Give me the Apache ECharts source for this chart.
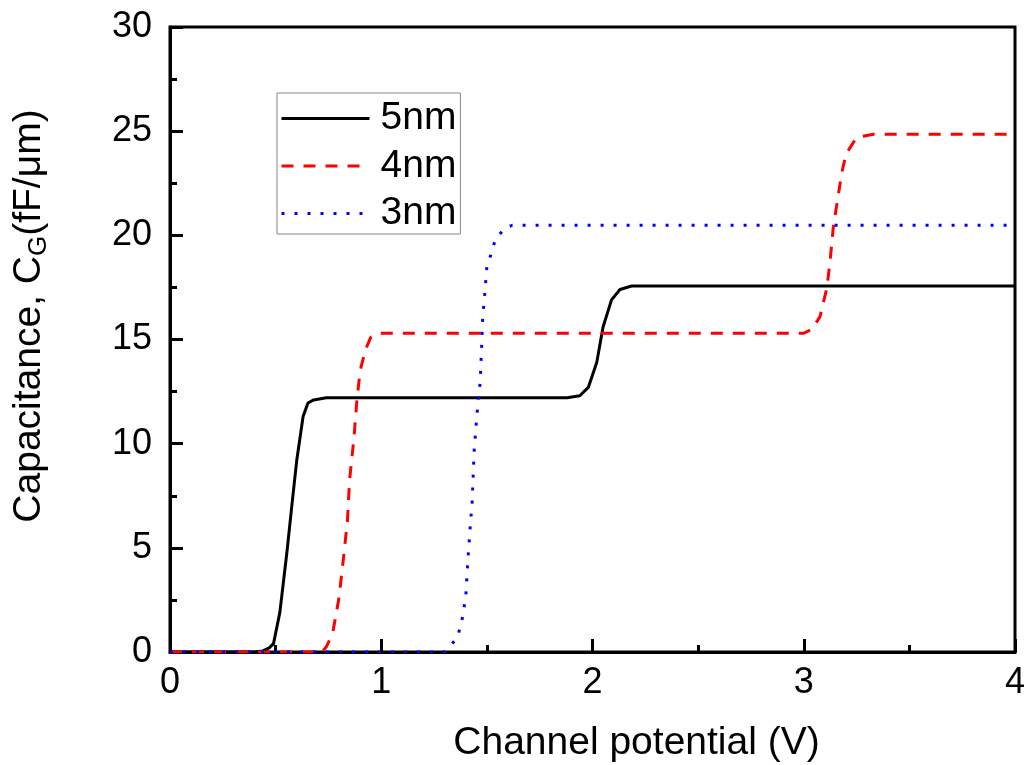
<!DOCTYPE html>
<html><head><meta charset="utf-8">
<script src="https://cdn.jsdelivr.net/npm/echarts@6/dist/echarts.min.js"></script>
<style>html,body{margin:0;padding:0;background:#fff}#c{width:1025px;height:765px}</style>
</head><body><div id="c"></div>
<script>
// ---- data ----
const seriesNames = ['5nm', '4nm', '3nm'];
const x5 = [0, 0.40, 0.44, 0.47, 0.49, 0.52, 0.553, 0.578, 0.60, 0.63, 0.653, 0.68, 0.74, 1.88, 1.94, 1.98, 2.02, 2.05, 2.09, 2.13, 2.185, 4];
const y5 = [0, 0, 0.05, 0.2, 0.4, 1.9, 4.75, 7.15, 9.2, 11.3, 11.95, 12.1, 12.2, 12.2, 12.3, 12.7, 13.9, 15.6, 16.9, 17.4, 17.57, 17.57];
const x4 = [0, 0.72, 0.74, 0.77, 0.80, 0.82, 0.84, 0.85, 0.87, 0.885, 0.90, 0.925, 0.95, 0.99, 3.00, 3.04, 3.077, 3.11, 3.125, 3.14, 3.16, 3.18, 3.20, 3.25, 3.33, 4];
const y4 = [0, 0, 0.25, 0.9, 2.6, 4.4, 6.3, 8.25, 10.2, 12.1, 13.5, 14.5, 15.1, 15.3, 15.3, 15.5, 16.1, 17.5, 18.8, 20.4, 21.7, 23, 23.9, 24.7, 24.85, 24.85];
const x3 = [0, 1.30, 1.32, 1.36, 1.38, 1.40, 1.41, 1.42, 1.43, 1.435, 1.44, 1.45, 1.46, 1.468, 1.475, 1.48, 1.49, 1.50, 1.52, 1.54, 1.585, 1.62, 4];
const y3 = [0, 0, 0.2, 0.7, 1.4, 2.65, 4.4, 5.85, 7.15, 8.4, 9.7, 11, 12.25, 12.9, 14.6, 16, 17.2, 18.5, 19.1, 19.8, 20.35, 20.48, 20.48];
const xTicks = [0, 1, 2, 3, 4];
const yTicks = [0, 5, 10, 15, 20, 25, 30];

const zip = (xs, ys) => xs.map((x, i) => [x, ys[i]]);
const FONT = '"Liberation Sans", Arial, sans-serif';

const chart = echarts.init(document.getElementById('c'), null, {renderer: 'canvas'});
const mkSeries = (name, data, color, type) => ({
  name, type: 'line', data, symbol: 'none', smooth: false,
  lineStyle: {color, width: 3, type}, itemStyle: {color}, z: 3
});
chart.setOption({
  animation: false,
  backgroundColor: '#fff',
  grid: {left: 170, right: 10, top: 27, bottom: 113, outerBoundsMode: 'none', containLabel: false,
         show: true, borderColor: '#000', borderWidth: 3, backgroundColor: 'transparent'},
  legend: {
    show: true,
    orient: 'vertical', left: 277, top: 93,
    itemWidth: 88, itemHeight: 14, itemGap: 8.5,
    padding: [6, 4, 1, 3],
    borderColor: '#888', borderWidth: 1,
    itemStyle: {opacity: 0},
    lineStyle: {width: 3},
    textStyle: {fontFamily: FONT, fontSize: 39, color: '#000', lineHeight: 36, padding: [0, 0, 0, 6]},
    data: seriesNames
  },
  xAxis: {
    type: 'value', min: 0, max: 4, interval: 1,
    name: 'Channel potential (V)', nameLocation: 'middle', nameGap: 72,
    nameTextStyle: {fontFamily: FONT, fontSize: 39, color: '#000', padding: [0, 0, 0, 88]},
    axisLine: {show: true, lineStyle: {color: '#000', width: 3}},
    axisTick: {show: true, inside: true, length: 13, lineStyle: {color: '#000', width: 3}},
    minorTick: {show: true, splitNumber: 2, length: 7, lineStyle: {color: '#000', width: 3}},
    axisLabel: {fontFamily: FONT, fontSize: 36, color: '#000', margin: 13,
      formatter: v => xTicks.includes(v) ? String(v) : ''},
    splitLine: {show: false}
  },
  yAxis: {
    type: 'value', min: 0, max: 30, interval: 5,
    name: '{a|Capacitance, C}{s|G}{a|(fF/μm)}', nameLocation: 'middle', nameGap: 118, nameRotate: 90,
    nameTextStyle: {fontFamily: FONT, color: '#000', padding: [0, 0, 0, 47],
      rich: {a: {fontFamily: FONT, fontSize: 39, color: '#000', lineHeight: 46},
             s: {fontFamily: FONT, fontSize: 26, color: '#000', verticalAlign: 'bottom', lineHeight: 30, padding: [10, 0, 0, 0]}}},
    axisLine: {show: true, lineStyle: {color: '#000', width: 3}},
    axisTick: {show: true, inside: true, length: 13, lineStyle: {color: '#000', width: 3}},
    minorTick: {show: true, splitNumber: 2, length: 7, lineStyle: {color: '#000', width: 3}},
    axisLabel: {fontFamily: FONT, fontSize: 36, color: '#000', margin: 18,
      formatter: v => yTicks.includes(v) ? String(v) : ''},
    splitLine: {show: false}
  },
  series: [
    mkSeries(seriesNames[0], zip(x5, y5), '#000000', 'solid'),
    mkSeries(seriesNames[1], zip(x4, y4), '#ff0000', [12, 10]),
    mkSeries(seriesNames[2], zip(x3, y3), '#0000ff', [3, 10])
  ]
});
</script></body></html>
